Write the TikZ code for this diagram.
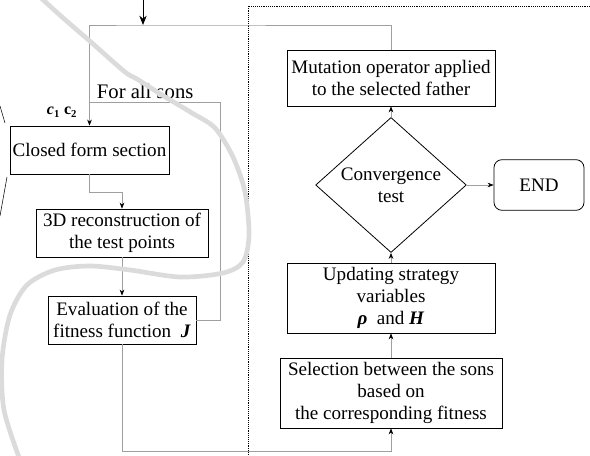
\documentclass[tikz,border=0pt]{standalone}
\usepackage{fontspec}
\setmainfont{Liberation Serif}
\usetikzlibrary{shapes.geometric,arrows.meta}

\begin{document}
\begin{tikzpicture}
  [x=0.75pt,y=-0.75pt,
   every node/.style={font=\fontsize{14.3}{16.5}\selectfont,align=center,inner sep=2pt},
   box/.style={draw,line width=0.6pt},
   decision/.style={draw,line width=0.6pt,diamond,minimum width=113pt,minimum height=82.5pt,inner sep=0pt},
   endbox/.style={draw,line width=0.6pt,rounded corners=6pt,minimum width=67.5pt,minimum height=38pt},
   flow/.style={draw=gray!75,line width=0.5pt,-{Stealth[color=black,length=4.5pt,width=3.5pt]}},
   loop/.style={draw=gray!75,line width=0.5pt}]
  \useasboundingbox (0,0) rectangle (590,456);

  \node[box,minimum width=116pt,minimum height=36pt] (closed) at (89.5,150) {Closed form section};
  \node[box,minimum width=129pt,minimum height=36pt] (rec) at (122,233) {3D reconstruction of\\the test points};
  \node[box,minimum width=111pt,minimum height=36pt] (eval) at (122,320) {Evaluation of the\\fitness function \ \textbf{\textit{J}}};
  \node[box,minimum width=166.5pt,minimum height=52.5pt] (sel) at (391,393) {Selection between the sons\\based on\\the corresponding fitness};
  \node[box,minimum width=156pt,minimum height=52.5pt] (upd) at (391,298) {Updating strategy\\variables\\\textbf{\textit{ρ}} \ and \textbf{\textit{H}}};
  \node[box,minimum width=156pt,minimum height=42pt] (mut) at (391,78) {Mutation operator applied\\to the selected father};
  \node[decision] (conv) at (391,185) {Convergence\\test};
  \node[endbox] (fin) at (539,185) {END};

  \node[anchor=base west,font=\fontsize{15.5}{18}\selectfont] (sons) at (94,99) {For all sons};
  \node[anchor=base west,font=\fontsize{12}{14}\selectfont] (cc) at (44,115) {\textbf{\textit{c}}\textsubscript{\textbf{1}} \textbf{c}\textsubscript{\textbf{2}}};

  \coordinate (start) at (143,0);
  \coordinate (top) at (143,25);
  \coordinate (back) at (220,102);
  \coordinate (join) at (89.5,102);
  \coordinate (bot) at (122,451);

  % outer dotted frame
  \draw[densely dotted] (248,460) -- (248,6) -- (594,6);

  \draw[line width=0.6pt,-{Stealth[length=7pt,width=5.5pt]}] (start) -- (top);
  \draw[flow] (mut.north) |- (top) -| (closed.north);
  \draw[loop] (eval.east) -| (back) -- (join);
  \draw[flow] (closed.south) -- ++(0,18) -| (rec.north);
  \draw[flow] (eval.south) -- (bot) -| (sel.south);
  \foreach \from/\to in {rec/eval,sel/upd,upd/conv,conv/mut,conv/fin}
    \draw[flow] (\from) -- (\to);

  % marks at the left edge
  \draw (0,106) -- (5,123);
  \draw (7,177) -- (0,216);

  % gray freehand curve
  \draw[gray!28,line width=3.5pt,line cap=round] plot[smooth] coordinates
    {(40,-3) (62,17) (92,43) (125,72) (137,79) (162,95) (192,113) (215,128) (233,157)
     (245,192) (249,235) (243,262) (223,273) (180,277) (130,270) (90,266) (55,270)
     (27,285) (10,315) (2,360) (4,410) (20,460)};
\end{tikzpicture}
\end{document}
